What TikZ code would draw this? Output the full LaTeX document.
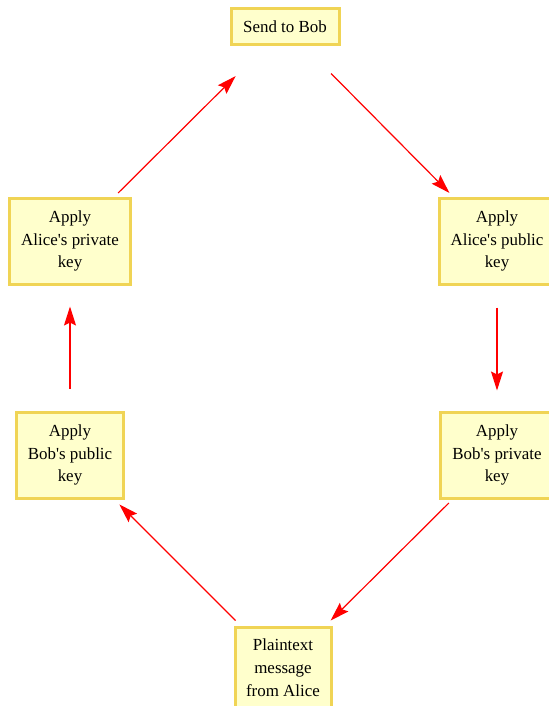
\documentclass[tikz,border=0pt]{standalone}
\usepackage{fontspec}
\setmainfont{Liberation Serif}[Ligatures=TeXOff]
\usetikzlibrary{arrows.meta}
\definecolor{boxfill}{RGB}{255,255,204}
\definecolor{boxline}{RGB}{240,212,85}
\begin{document}
\begin{tikzpicture}[x=1bp,y=-1bp,
  box/.style={draw=boxline, fill=boxfill, line width=3bp, inner sep=0pt,
    align=center, font=\fontsize{17}{23}\selectfont},
  arr/.style={draw=red, color=red, line width=1.2bp, -{Stealth[length=19bp,width=12bp,inset=3bp]}}]
\useasboundingbox (0,0) rectangle (549,706);
\clip (0,0) rectangle (549,706);
\node[box, minimum width=108bp, minimum height=36bp] (send) at (285,27) {Send to Bob};
\node[box, minimum width=121bp, minimum height=86bp] (apriv) at (70,241) {Apply\\Alice's private\\key};
\node[box, minimum width=116bp, minimum height=86bp] (apub) at (497,241) {Apply\\Alice's public\\key};
\node[box, minimum width=107bp, minimum height=86bp] (bpub) at (70,455) {Apply\\Bob's public\\key};
\node[box, minimum width=113bp, minimum height=86bp] (bpriv) at (497,455) {Apply\\Bob's private\\key};
\node[box, minimum width=96bp, minimum height=82bp] (plain) at (283,668) {Plaintext\\message\\from Alice};
\draw[arr, shorten <=7bp, shorten >=7bp] (plain) -- (bpub);
\draw[arr, shorten <=22bp, shorten >=21bp] (bpub) -- (apriv);
\draw[arr, shorten <=5bp, shorten >=42bp] (apriv) -- (send);
\draw[arr, shorten <=38bp, shorten >=5bp] (send) -- (apub);
\draw[arr, shorten <=22bp, shorten >=20bp] (apub) -- (bpriv);
\draw[arr, shorten <=5bp, shorten >=7bp] (bpriv) -- (plain);
\end{tikzpicture}
\end{document}
